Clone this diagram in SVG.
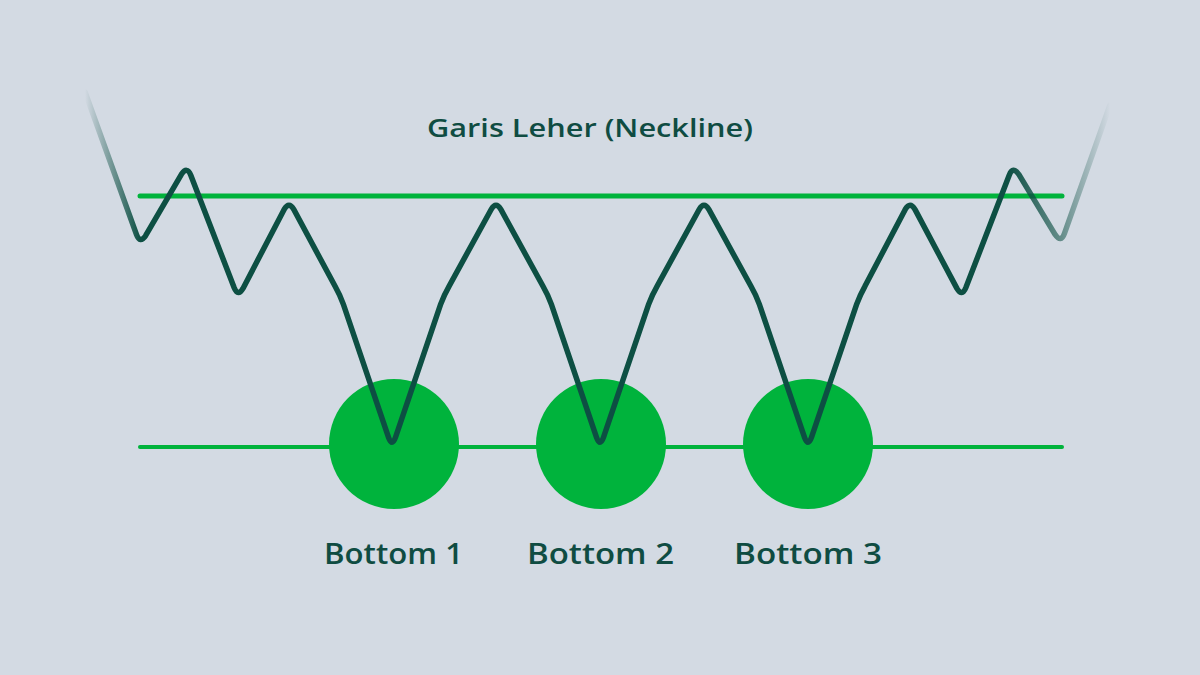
<svg xmlns="http://www.w3.org/2000/svg" width="1200" height="675" viewBox="0 0 1200 675">
<style>
.txt{font-family:"Open Sans","Noto Sans",sans-serif;fill:#0f4c42;font-weight:600}
.green{stroke:#00b33c;stroke-linecap:round;fill:none}
.circle{fill:#00b33c}
</style>
<defs>
<linearGradient id="fade" gradientUnits="userSpaceOnUse" x1="85" y1="0" x2="1110" y2="0">
<stop offset="0" stop-color="#0d4f43" stop-opacity="0"/>
<stop offset="0.054" stop-color="#0d4f43" stop-opacity="1"/>
<stop offset="0.9" stop-color="#0d4f43" stop-opacity="1"/>
<stop offset="0.953" stop-color="#0d4f43" stop-opacity="0.55"/>
<stop offset="1" stop-color="#0d4f43" stop-opacity="0"/>
</linearGradient>
</defs>
<rect width="1200" height="675" fill="#d3dae3"/>
<g id="neckline">
<line class="green" x1="140" y1="196" x2="1062" y2="196" stroke-width="5"/>
<text class="txt" x="427" y="137" font-size="26" textLength="326" lengthAdjust="spacingAndGlyphs">Garis Leher (Neckline)</text>
</g>
<g id="support">
<line class="green" x1="140" y1="447" x2="1062" y2="447" stroke-width="4"/>
</g>
<g id="bottom1">
<circle class="circle" cx="394" cy="444" r="65"/>
<text class="txt" x="324" y="564" font-size="29" textLength="139" lengthAdjust="spacingAndGlyphs">Bottom 1</text>
</g>
<g id="bottom2">
<circle class="circle" cx="601" cy="444" r="65"/>
<text class="txt" x="527" y="564" font-size="29" textLength="147" lengthAdjust="spacingAndGlyphs">Bottom 2</text>
</g>
<g id="bottom3">
<circle class="circle" cx="808" cy="444" r="65"/>
<text class="txt" x="734" y="564" font-size="29" textLength="148" lengthAdjust="spacingAndGlyphs">Bottom 3</text>
</g>
<g id="connectors">
<path d="M85,92 L136.5,234.6 Q140,244 145.6,235.7 L181.4,174.3 Q187,166 190.8,175.2 L234.2,287.8 Q238,297 243,288.4 L284,209.7 Q289,201 293.9,209.7 L335.1,286.3 Q340,295 343.4,304.4 L388.6,437.6 Q392,447 395.4,437.6 L440.6,304.4 Q444,295 449,286.3 L491,209.7 Q496,201 501,209.7 L543,286.3 Q548,295 551.4,304.4 L596.6,437.6 Q600,447 603.4,437.6 L648.6,304.4 Q652,295 657,286.3 L699,209.7 Q704,201 709,209.7 L751,286.3 Q756,295 759.4,304.4 L804.6,437.6 Q808,447 811.4,437.6 L856.6,304.4 Q860,295 864.9,286.3 L905.1,209.7 Q910,201 915.1,209.6 L956.9,288.4 Q962,297 965.8,287.8 L1009.2,175.2 Q1013,166 1018.7,174.2 L1055.3,234.8 Q1061,243 1064.4,233.6 L1110,105" fill="none" stroke="url(#fade)" stroke-width="5.5" stroke-linejoin="round" stroke-linecap="round"/>
</g>
</svg>
